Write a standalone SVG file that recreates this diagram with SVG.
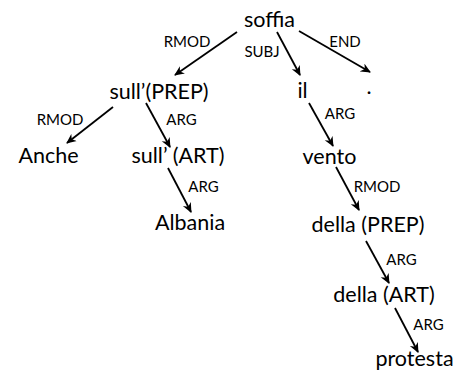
<svg xmlns="http://www.w3.org/2000/svg" width="460" height="372" viewBox="0 0 460 372">
<defs>
<marker id="ah" viewBox="0 0 10 10" refX="9" refY="5" markerWidth="10" markerHeight="10" markerUnits="userSpaceOnUse" orient="auto">
<path d="M0,0.5 L10,5 L0,9.5 L3,5 Z" fill="#000"/>
</marker>
<style>
.n{font-family:Lato,"Noto Sans","Liberation Sans",sans-serif;font-size:21.5px;fill:#000;text-anchor:middle}
.l{font-family:Lato,"Noto Sans","Liberation Sans",sans-serif;font-size:15px;fill:#000;text-anchor:middle}
.e{stroke:#000;stroke-width:1.8;fill:none;marker-end:url(#ah)}
</style>
</defs>
<rect width="460" height="372" fill="#fff"/>
<g id="connectors">
<line class="e" x1="237" y1="32" x2="175" y2="75"/>
<line class="e" x1="277" y1="32" x2="300" y2="75"/>
<line class="e" x1="299" y1="31" x2="370" y2="72"/>
<line class="e" x1="113" y1="107" x2="67" y2="143"/>
<line class="e" x1="146" y1="103" x2="170" y2="147"/>
<line class="e" x1="168" y1="168" x2="191" y2="212"/>
<line class="e" x1="309" y1="103" x2="333" y2="146"/>
<line class="e" x1="336" y1="167" x2="359" y2="210"/>
<line class="e" x1="366" y1="241" x2="389" y2="283"/>
<line class="e" x1="395" y1="308" x2="418" y2="352"/>
<text class="l" x="187" y="47">RMOD</text>
<text class="l" x="262" y="57">SUBJ</text>
<text class="l" x="345" y="47">END</text>
<text class="l" x="60" y="125">RMOD</text>
<text class="l" x="181.5" y="125">ARG</text>
<text class="l" x="203.5" y="192">ARG</text>
<text class="l" x="340" y="119">ARG</text>
<text class="l" x="377" y="192">RMOD</text>
<text class="l" x="401.5" y="265">ARG</text>
<text class="l" x="428.5" y="330">ARG</text>
</g>
<g id="soffia"><text class="n" x="269.5" y="27">soffia</text></g>
<g id="sull_prep"><text class="n" x="159" y="99">sull’(PREP)</text></g>
<g id="il"><text class="n" x="302.5" y="98">il</text></g>
<g id="dot"><text class="n" x="369" y="94">.</text></g>
<g id="anche"><text class="n" x="48.5" y="163">Anche</text></g>
<g id="sull_art"><text class="n" x="178" y="163">sull’ (ART)</text></g>
<g id="vento"><text class="n" x="329.5" y="164">vento</text></g>
<g id="albania"><text class="n" x="190" y="230">Albania</text></g>
<g id="della_prep"><text class="n" x="368" y="232">della (PREP)</text></g>
<g id="della_art"><text class="n" x="384" y="302">della (ART)</text></g>
<g id="protesta"><text class="n" x="414.5" y="366">protesta</text></g>
</svg>
